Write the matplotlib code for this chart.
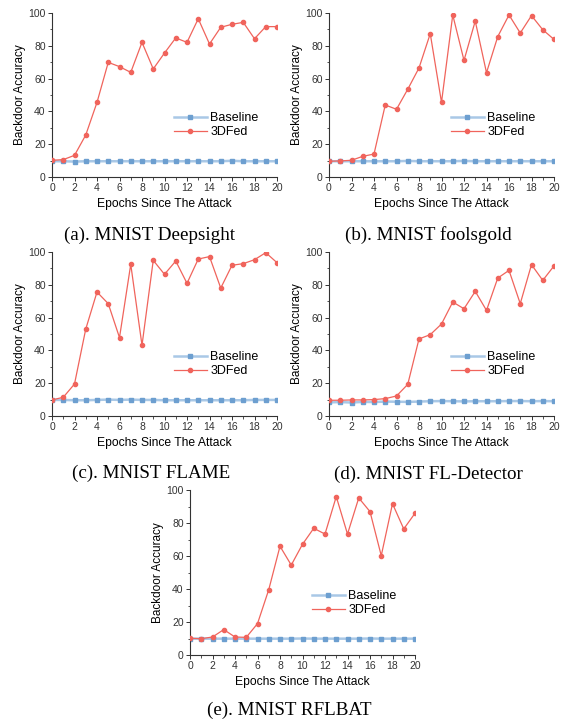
import numpy as np
import matplotlib
matplotlib.use("Agg")
import matplotlib.pyplot as plt
from matplotlib.ticker import MultipleLocator

plt.rcParams['font.family'] = ['Liberation Sans', 'DejaVu Sans']

epochs = list(range(21))

# (a) MNIST Deepsight
deepsight_base = [9.6, 9.6, 9.4, 9.6, 9.6, 9.6, 9.6, 9.6, 9.6, 9.6, 9.6,
                  9.6, 9.6, 9.6, 9.6, 9.6, 9.9, 9.6, 9.6, 9.6, 9.6]
deepsight_3dfed = [10.2, 10.6, 13.2, 25.6, 45.5, 69.9, 67.3, 63.8, 82.1, 65.9, 75.6,
                   84.8, 82.1, 96.5, 81.1, 91.3, 93.1, 94.3, 84.3, 91.7, 91.7]

# (b) MNIST foolsgold
foolsgold_base = [9.6, 9.6, 9.6, 9.6, 9.6, 9.6, 9.6, 9.8, 9.6, 9.6, 9.6,
                  9.6, 9.8, 9.6, 9.6, 9.6, 9.6, 9.6, 9.6, 9.6, 9.6]
foolsgold_3dfed = [9.6, 9.8, 10.2, 12.6, 14.0, 43.9, 41.3, 53.5, 66.5, 87.4, 45.5,
                   98.8, 71.1, 95.1, 63.6, 85.6, 98.8, 87.8, 98.4, 89.8, 83.9]

# (c) MNIST FLAME
flame_base = [9.8, 9.8, 9.6, 9.6, 9.8, 10.0, 9.8, 10.0, 9.8, 9.8, 9.6,
              9.6, 9.6, 9.6, 9.6, 9.6, 9.6, 9.6, 9.8, 9.8, 9.8]
flame_3dfed = [9.8, 11.4, 19.5, 53.0, 75.6, 68.5, 47.8, 92.5, 43.1, 94.9, 86.4,
               94.5, 80.9, 95.7, 97.2, 78.0, 91.9, 92.9, 95.3, 99.6, 93.5]

# (d) MNIST FL-Detector
fldet_base = [8.3, 8.5, 8.2, 8.6, 8.5, 8.8, 8.7, 8.6, 8.8, 9.0, 9.1,
              9.0, 8.9, 9.0, 9.0, 9.0, 9.1, 9.1, 9.0, 9.1, 9.0]
fldet_3dfed = [9.6, 9.6, 9.8, 9.8, 10.0, 10.6, 12.2, 19.3, 47.0, 49.6, 56.1,
               69.5, 65.4, 76.0, 64.4, 84.1, 88.8, 68.5, 92.3, 82.7, 91.5]

# (e) MNIST RFLBAT
rflbat_base = [9.9, 9.9, 9.9, 9.9, 9.9, 9.9, 9.9, 9.9, 9.9, 9.9, 10.0,
               9.9, 9.9, 9.9, 9.9, 9.9, 10.0, 9.9, 9.9, 9.9, 9.9]
rflbat_3dfed = [10.1, 9.9, 10.9, 15.4, 10.9, 10.7, 19.0, 39.6, 65.9, 54.5, 67.1,
                76.8, 73.3, 96.0, 73.3, 95.2, 86.9, 60.2, 91.7, 76.4, 85.9]

panels = [
    ("(a). MNIST Deepsight", deepsight_base, deepsight_3dfed),
    ("(b). MNIST foolsgold", foolsgold_base, foolsgold_3dfed),
    ("(c). MNIST FLAME", flame_base, flame_3dfed),
    ("(d). MNIST FL-Detector", fldet_base, fldet_3dfed),
    ("(e). MNIST RFLBAT", rflbat_base, rflbat_3dfed),
]

W, H = 561, 723
fig = plt.figure(figsize=(W / 100, H / 100), dpi=100)

# axes boxes in pixels: left, top, right, bottom; caption centre x, y
boxes = [
    (52, 13, 277, 177, 150, 235),
    (329, 13, 554, 177, 428, 235),
    (52, 252, 277, 416, 151, 473),
    (329, 252, 554, 416, 428, 474),
    (190, 490, 415, 655, 289, 710),
]

blue_line = '#a9c8e6'
blue_mark = '#6d9fd0'
red = '#f0645c'

for (title, base, fed), (l, t, r, b, cx, cy) in zip(panels, boxes):
    ax = fig.add_axes([l / W, 1 - b / H, (r - l) / W, (b - t) / H])
    ax.plot(epochs, base, color=blue_line, lw=1.8, marker='s', ms=3.0,
            mfc=blue_mark, mec=blue_mark, label='Baseline', zorder=2)
    ax.plot(epochs, fed, color=red, lw=0.9, marker='o', ms=3.0,
            mfc=red, mec=red, label='3DFed', zorder=3)
    ax.set_xlim(0, 20)
    ax.set_ylim(0, 100)
    ax.xaxis.set_major_locator(MultipleLocator(2))
    ax.xaxis.set_minor_locator(MultipleLocator(1))
    ax.yaxis.set_major_locator(MultipleLocator(20))
    ax.yaxis.set_minor_locator(MultipleLocator(10))
    ax.spines['top'].set_visible(False)
    ax.spines['right'].set_visible(False)
    for s in ('left', 'bottom'):
        ax.spines[s].set_color('#333333')
        ax.spines[s].set_linewidth(0.8)
    ax.tick_params(which='major', length=3, width=0.7, labelsize=7.5,
                   colors='#333333', pad=1.5)
    ax.tick_params(which='minor', length=1.8, width=0.6, colors='#333333')
    ax.set_xlabel('Epochs Since The Attack', fontsize=8.7, labelpad=3.5)
    ax.set_ylabel('Backdoor Accuracy', fontsize=8.5, labelpad=1.5)
    ax.legend(loc='center left', bbox_to_anchor=(0.52, 0.315), frameon=False,
              fontsize=9, handlelength=2.6, handletextpad=0.3,
              labelspacing=0.15, borderaxespad=0)
    fig.text(cx / W, 1 - cy / H, title, family=['Liberation Serif', 'DejaVu Serif'],
             fontsize=13.7, ha='center', va='center')

fig.savefig('out.png', dpi=100)
